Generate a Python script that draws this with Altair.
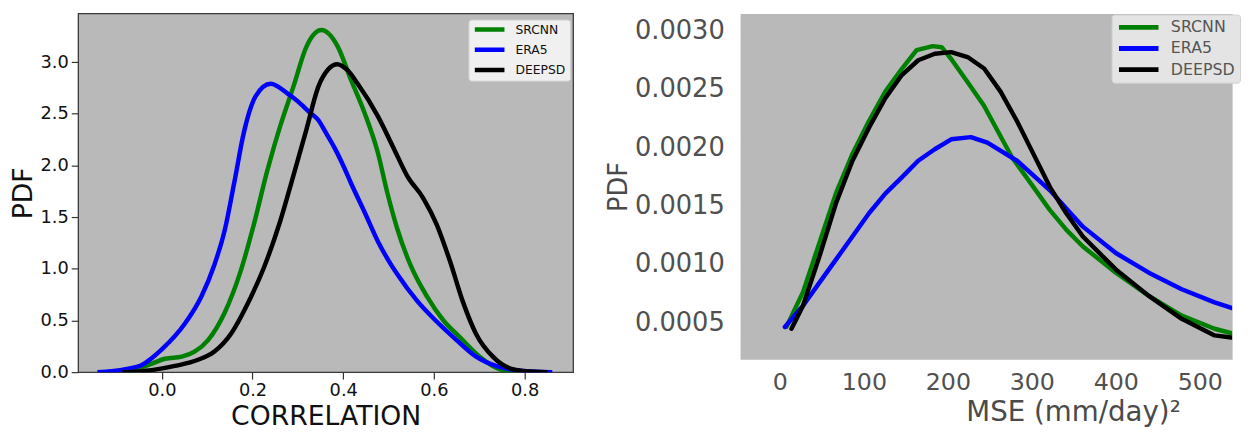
import altair as alt
import pandas as pd

series = ["SRCNN", "ERA5", "DEEPSD"]
colors = ["#008000", "#0000ff", "#000000"]

# ---- left panel: CORRELATION densities ----
corr_srcnn_x = [-0.08, -0.029, 0.007, 0.044, 0.073, 0.102, 0.138, 0.174, 0.203, 0.232, 0.261, 0.29, 0.319,
                0.352, 0.388, 0.417, 0.447, 0.476, 0.497, 0.519, 0.548, 0.585, 0.621, 0.657, 0.701, 0.744, 0.78]
corr_srcnn_y = [0.0, 0.07, 0.13, 0.15, 0.20, 0.31, 0.57, 0.98, 1.43, 1.94, 2.38, 2.76, 3.15,
                3.31, 3.15, 2.83, 2.51, 2.13, 1.74, 1.39, 1.04, 0.73, 0.50, 0.34, 0.15, 0.03, 0.0]

corr_era5_x = [-0.142, -0.08, -0.044, 0.0, 0.051, 0.087, 0.116, 0.138, 0.16, 0.181, 0.207, 0.24, 0.276, 0.30,
               0.327, 0.345, 0.36, 0.381, 0.40, 0.417, 0.447, 0.476, 0.50, 0.519, 0.563, 0.606, 0.65, 0.693,
               0.737, 0.781, 0.861]
corr_era5_y = [0.0, 0.03, 0.07, 0.22, 0.47, 0.73, 1.04, 1.36, 1.84, 2.32, 2.67, 2.79, 2.70, 2.62,
               2.51, 2.44, 2.33, 2.17, 2.0, 1.83, 1.55, 1.27, 1.08, 0.95, 0.69, 0.49, 0.31, 0.15,
               0.06, 0.02, 0.0]

corr_deepsd_x = [-0.087, -0.022, 0.029, 0.08, 0.116, 0.153, 0.189, 0.225, 0.261, 0.29, 0.319, 0.345, 0.367,
                 0.387, 0.41, 0.432, 0.476, 0.512, 0.541, 0.577, 0.606, 0.635, 0.664, 0.693, 0.73, 0.766,
                 0.802, 0.85]
corr_deepsd_y = [0.0, 0.02, 0.06, 0.12, 0.20, 0.375, 0.66, 1.01, 1.46, 1.90, 2.35, 2.76, 2.93,
                 2.98, 2.92, 2.79, 2.48, 2.16, 1.90, 1.68, 1.43, 1.08, 0.68, 0.37, 0.15, 0.04,
                 0.01, 0.0]

corr_x_ticks = [0.0, 0.2, 0.4, 0.6, 0.8]
corr_y_ticks = [0.0, 0.5, 1.0, 1.5, 2.0, 2.5, 3.0]

# ---- right panel: MSE densities ----
mse_srcnn_x = [7.9, 27.5, 47.1, 66.7, 86.4, 105.9, 125.5, 145.2, 162.8, 182.0, 192.6, 204.0, 223.2, 242.9,
               276.5, 302.0, 321.6, 341.2, 360.8, 400, 439.3, 478.5, 517.6, 547.9]
mse_srcnn_y = [4.60e-4, 7.57e-4, 11.81e-4, 16.04e-4, 19.43e-4, 22.23e-4, 24.77e-4, 26.72e-4, 28.33e-4,
               28.67e-4, 28.58e-4, 27.57e-4, 25.62e-4, 23.58e-4, 19.12e-4, 16.58e-4, 14.60e-4, 12.91e-4,
               11.49e-4, 9.24e-4, 7.25e-4, 5.56e-4, 4.43e-4, 3.86e-4]

mse_era5_x = [5.9, 27.5, 47.1, 66.7, 86.4, 105.9, 125.5, 145.2, 164.7, 184.4, 204.0, 227.5, 247.1, 282.4,
              321.6, 360.8, 400, 439.3, 478.5, 517.6, 547.9]
mse_era5_y = [4.58e-4, 6.41e-4, 8.39e-4, 10.36e-4, 12.34e-4, 14.32e-4, 16.02e-4, 17.42e-4, 18.84e-4,
              19.83e-4, 20.68e-4, 20.87e-4, 20.39e-4, 18.84e-4, 16.30e-4, 13.19e-4, 10.93e-4, 9.24e-4,
              7.82e-4, 6.69e-4, 5.98e-4]

mse_deepsd_x = [13.8, 27.5, 47.1, 66.7, 86.4, 105.9, 125.5, 145.2, 164.7, 184.4, 204.0, 223.5, 243.2, 262.8,
                282.4, 302.0, 321.6, 341.2, 360.8, 400, 439.3, 478.5, 517.6, 547.9]
mse_deepsd_y = [4.43e-4, 6.41e-4, 10.64e-4, 15.17e-4, 18.84e-4, 21.66e-4, 24.20e-4, 26.19e-4, 27.46e-4,
                28.02e-4, 28.16e-4, 27.74e-4, 26.75e-4, 24.77e-4, 22.23e-4, 19.41e-4, 16.58e-4, 14.32e-4,
                12.34e-4, 9.52e-4, 7.25e-4, 5.28e-4, 3.86e-4, 3.58e-4]

mse_x_ticks = [0, 100, 200, 300, 400, 500]
mse_y_ticks = [0.0005, 0.0010, 0.0015, 0.0020, 0.0025, 0.0030]


def frame(name, xs, ys):
    return pd.DataFrame({"x": xs, "y": ys, "series": name, "ord": list(range(len(xs)))})


corr_df = pd.concat([frame("SRCNN", corr_srcnn_x, corr_srcnn_y),
                     frame("ERA5", corr_era5_x, corr_era5_y),
                     frame("DEEPSD", corr_deepsd_x, corr_deepsd_y)], ignore_index=True)
mse_df = pd.concat([frame("SRCNN", mse_srcnn_x, mse_srcnn_y),
                    frame("ERA5", mse_era5_x, mse_era5_y),
                    frame("DEEPSD", mse_deepsd_x, mse_deepsd_y)], ignore_index=True)

FONT = "DejaVu Sans"
BG = "#b9b9b9"

left = alt.Chart(corr_df).mark_line(strokeWidth=4.5, interpolate="monotone", clip=True).encode(
    x=alt.X("x:Q",
            scale=alt.Scale(domain=[-0.1845, 0.907], nice=False, zero=False),
            axis=alt.Axis(values=corr_x_ticks, format=".1f", title="CORRELATION",
                          labelFont=FONT, labelFontSize=18, labelColor="#111111", labelPadding=3,
                          tickSize=7, tickWidth=1.2, tickColor="#333333", domain=False, grid=False,
                          titleFont=FONT, titleFontSize=27, titleFontWeight="normal", titleColor="#111111",
                          titleY=53, titleBaseline="alphabetic")),
    y=alt.Y("y:Q",
            scale=alt.Scale(domain=[0, 3.47], nice=False, zero=False),
            axis=alt.Axis(values=corr_y_ticks, format=".1f", title="PDF",
                          labelFont=FONT, labelFontSize=18, labelColor="#111111", labelPadding=3,
                          tickSize=7, tickWidth=1.2, tickColor="#333333", domain=False, grid=False,
                          titleFont=FONT, titleFontSize=27, titleFontWeight="normal", titleColor="#111111",
                          titleX=-47, titleBaseline="alphabetic")),
    color=alt.Color("series:N",
                    scale=alt.Scale(domain=series, range=colors),
                    legend=alt.Legend(title=None, orient="none", legendX=395, legendY=6,
                                      symbolType="stroke", symbolSize=900, symbolStrokeWidth=4.5,
                                      clipHeight=12.5,
                                      labelFont=FONT, labelFontSize=12.5, labelColor="#111111",
                                      labelOffset=8.6, padding=4, rowPadding=7.5,
                                      fillColor="#f0f0f0", strokeColor="#cccccc", cornerRadius=3)),
    order=alt.Order("ord:Q"),
).properties(width=501, height=363,
             view=alt.ViewBackground(fill=BG, stroke="#3a3a3a", strokeWidth=1.3))

right = alt.Chart(mse_df).mark_line(strokeWidth=4.5, strokeCap="round", strokeJoin="round", clip=True).encode(
    x=alt.X("x:Q",
            scale=alt.Scale(domain=[-47.4, 538.5], nice=False, zero=False),
            axis=alt.Axis(values=mse_x_ticks, format="d", title="MSE (mm/day)²",
                          labelFont=FONT, labelFontSize=24, labelColor="#505050", labelPadding=12,
                          ticks=False, domain=False, grid=False,
                          titleFont=FONT, titleFontSize=28, titleFontWeight="normal", titleColor="#4a4a4a",
                          titleX=337, titleY=62, titleAlign="center", titleBaseline="alphabetic")),
    y=alt.Y("y:Q",
            scale=alt.Scale(domain=[0.000181, 0.003147], nice=False, zero=False),
            axis=alt.Axis(values=mse_y_ticks, format=".4f", title="PDF",
                          labelFont=FONT, labelFontSize=26, labelColor="#505050", labelPadding=16,
                          ticks=False, domain=False, grid=False,
                          titleFont=FONT, titleFontSize=26, titleFontWeight="normal", titleColor="#4a4a4a",
                          titleX=-115, titleBaseline="alphabetic")),
    color=alt.Color("series:N",
                    scale=alt.Scale(domain=series, range=colors),
                    legend=alt.Legend(title=None, orient="none", legendX=376, legendY=1,
                                      symbolType="stroke", symbolSize=1600, symbolStrokeWidth=5,
                                      clipHeight=16,
                                      labelFont=FONT, labelFontSize=16, labelColor="#555555",
                                      labelOffset=10, padding=5, rowPadding=5.4,
                                      fillColor="#e4e4e4", strokeColor="#d0d0d0", cornerRadius=3)),
    order=alt.Order("ord:Q"),
).properties(width=498, height=350,
             view=alt.ViewBackground(fill=BG, strokeOpacity=0))

chart = alt.hconcat(left, right, spacing=32).resolve_scale(
    color="independent"
).resolve_legend(
    color="independent"
).properties(
    padding={"left": 1, "top": 2, "right": 0, "bottom": 0},
    background="white",
)

chart.save("out.html", embed_options={"renderer": "svg", "actions": False})
